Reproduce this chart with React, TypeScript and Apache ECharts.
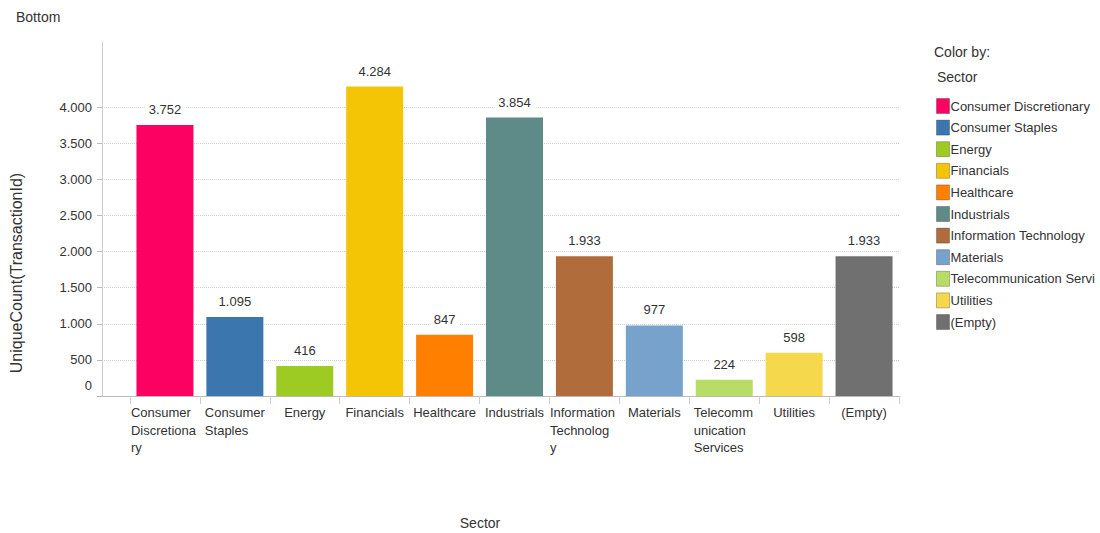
import React, { useEffect, useRef } from "react";
import * as echarts from "echarts";

const categories = [
  "Consumer Discretionary",
  "Consumer Staples",
  "Energy",
  "Financials",
  "Healthcare",
  "Industrials",
  "Information Technology",
  "Materials",
  "Telecommunication Services",
  "Utilities",
  "(Empty)",
];

const values = [3752, 1095, 416, 4284, 847, 3854, 1933, 977, 224, 598, 1933];

const tickLabels = [
  ["Consumer", "Discretiona", "ry"],
  ["Consumer", "Staples"],
  ["Energy"],
  ["Financials"],
  ["Healthcare"],
  ["Industrials"],
  ["Information", "Technolog", "y"],
  ["Materials"],
  ["Telecomm", "unication", "Services"],
  ["Utilities"],
  ["(Empty)"],
];

const colors = [
  "#FC0062",
  "#3C76AF",
  "#9DCB24",
  "#F4C505",
  "#FF8000",
  "#5E8A87",
  "#B06D3B",
  "#76A2CC",
  "#B8DD66",
  "#F6D84C",
  "#707070",
];

const fmt = (v: number) => String(v).replace(/\B(?=(\d{3})+(?!\d))/g, ".");

const FONT = "Liberation Sans, Arial, sans-serif";
const TXT = "#333";

export default function App() {
  const ref = useRef<HTMLDivElement>(null);
  useEffect(() => {
    if (!ref.current) return;
    const chart = echarts.init(ref.current, null, { renderer: "svg" });
    const labelWidths: Record<number, number> = { 0: 68, 1: 60, 6: 69, 8: 61 };
    const rich: any = {};
    Object.keys(labelWidths).forEach((k) => {
      rich["w" + k] = {
        width: labelWidths[+k],
        align: "left",
        fontSize: 13,
        lineHeight: 17.5,
        color: TXT,
        fontFamily: FONT,
      };
    });
    rich.z = { padding: [0, 0, 22, 0], fontSize: 13, color: TXT, fontFamily: FONT };

    const series = categories.map((name, i) => ({
      name,
      type: "bar",
      xAxisIndex: 1,
      yAxisIndex: 1,
      stack: "all",
      barWidth: 57,
      itemStyle: { color: colors[i] },
      label: {
        show: true,
        position: "top",
        distance: 8,
        formatter: (p: any) => fmt(p.value),
        fontSize: 13,
        color: TXT,
        fontFamily: FONT,
        backgroundColor: "#fff",
        padding: [1, 4],
      },
      data: values.map((v, j) => (j === i ? v : "-")),
    }));

    chart.setOption({
      animation: false,
      textStyle: { fontFamily: FONT },
      grid: [
        { left: 102, right: 200, top: 107, bottom: 137 },
        { left: 130, right: 201, top: 42, bottom: 137 },
      ],
      xAxis: [
        {
          gridIndex: 0,
          type: "value",
          min: 0,
          max: 1,
          axisLine: { show: true, lineStyle: { color: "#bbb" } },
          axisTick: { show: false },
          axisLabel: { show: false },
          splitLine: { show: false },
        },
        {
          gridIndex: 1,
          type: "category",
          data: categories,
          axisLine: { show: false },
          axisTick: { show: true, length: 8, lineStyle: { color: "#ccc" } },
          axisLabel: {
            interval: 0,
            margin: 8,
            fontSize: 13,
            lineHeight: 17.5,
            color: TXT,
            fontFamily: FONT,
            verticalAlign: "top",
            formatter: (_v: string, idx: number) => {
              const lines = tickLabels[idx];
              if (lines.length === 1) return lines[0];
              return lines.map((l) => `{w${idx}|${l}}`).join("\n");
            },
            rich,
          },
        },
      ],
      yAxis: [
        {
          gridIndex: 0,
          type: "value",
          min: 0,
          max: 4000,
          interval: 500,
          axisLine: { show: false },
          axisTick: { show: true, length: 5, lineStyle: { color: "#bbb" } },
          axisLabel: {
            margin: 10,
            fontSize: 13,
            color: TXT,
            fontFamily: FONT,
            formatter: (v: number) => (v === 0 ? "{z|0}" : fmt(v)),
            rich,
          },
          splitLine: {
            show: true,
            lineStyle: {
              type: "dotted",
              color: ["transparent", "#cfcfcf", "#cfcfcf", "#cfcfcf", "#cfcfcf", "#cfcfcf", "#cfcfcf", "#cfcfcf", "#cfcfcf"],
            },
          },
        },
        {
          gridIndex: 1,
          type: "value",
          min: 0,
          max: 4900,
          offset: 28,
          axisLine: { show: true, lineStyle: { color: "#ccc" } },
          axisTick: { show: false },
          axisLabel: { show: false },
          splitLine: { show: false },
        },
      ],
      legend: {
        orient: "vertical",
        left: 936,
        top: 98,
        padding: 0,
        icon: "rect",
        itemWidth: 13,
        itemHeight: 15,
        itemGap: 5.6,
        selectedMode: false,
        align: "left",
        textStyle: {
          fontSize: 13,
          lineHeight: 15,
          color: TXT,
          fontFamily: FONT,
          padding: [0, 0, 0, -4],
          width: 148,
          overflow: "truncate",
          ellipsis: "",
        },
        itemStyle: { borderColor: "rgba(0,0,0,0.25)", borderWidth: 1 },
        data: categories,
      },
      graphic: [
        {
          type: "text",
          left: 16,
          top: 10,
          style: { text: "Bottom", fontSize: 14, fill: TXT, fontFamily: FONT },
        },
        {
          type: "text",
          x: 16,
          y: 273,
          rotation: Math.PI / 2,
          style: {
            text: "UniqueCount(TransactionId)",
            fontSize: 16,
            fill: TXT,
            fontFamily: FONT,
            align: "center",
            verticalAlign: "middle",
          },
        },
        {
          type: "text",
          x: 480,
          y: 523,
          style: {
            text: "Sector",
            fontSize: 14,
            fill: TXT,
            fontFamily: FONT,
            align: "center",
            verticalAlign: "middle",
          },
        },
        {
          type: "text",
          x: 934,
          y: 52,
          style: { text: "Color by:", fontSize: 14, fill: TXT, fontFamily: FONT, verticalAlign: "middle" },
        },
        {
          type: "text",
          x: 937,
          y: 77,
          style: { text: "Sector", fontSize: 14, fill: TXT, fontFamily: FONT, verticalAlign: "middle" },
        },
      ],
      series,
    });
    return () => chart.dispose();
  }, []);
  return (
    <div
      ref={ref}
      style={{ position: "fixed", left: 0, top: 0, width: 1100, height: 533, background: "#fff" }}
    />
  );
}
